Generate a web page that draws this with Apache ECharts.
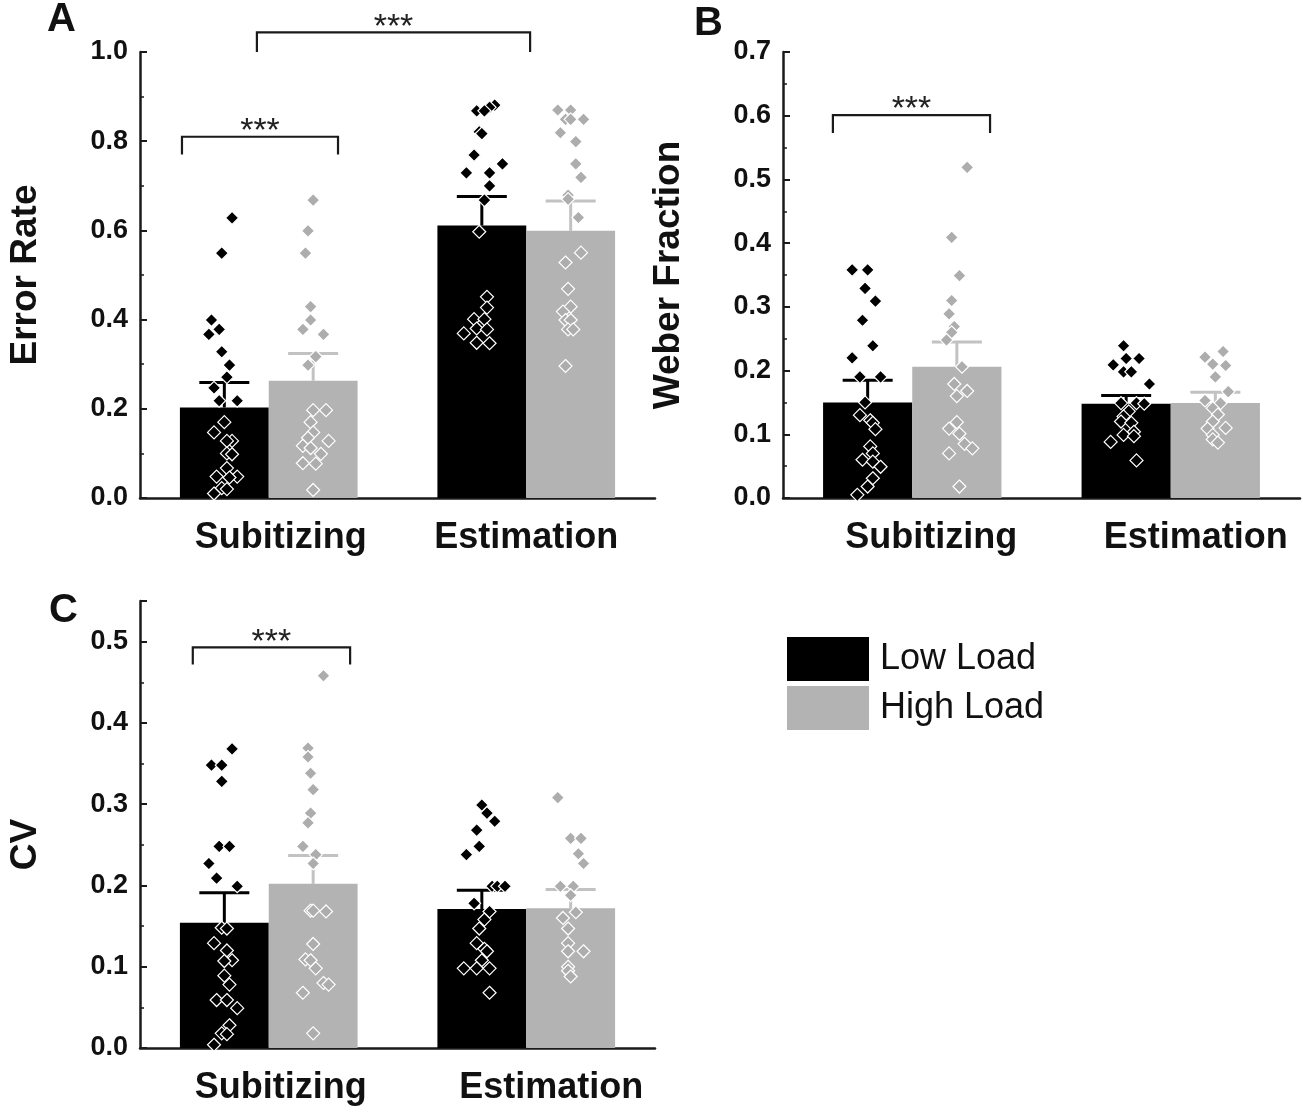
<!DOCTYPE html>
<html>
<head>
<meta charset="utf-8">
<script src="https://cdn.jsdelivr.net/npm/echarts@6/dist/echarts.min.js"></script>
<style>
  html, body { margin: 0; padding: 0; background: #fff; }
  #chart { width: 1303px; height: 1115px; }
</style>
</head>
<body>
<div id="chart"></div>
<script>
const categories = ['Subitizing', 'Estimation']
const groups = ['Low Load', 'High Load']

// A - error rate (bar = mean, whisker = SE)
const errMeanLow = [0.203, 0.611]
const errMeanHigh = [0.263, 0.599]
const errSeLow = [0.056, 0.065]
const errSeHigh = [0.061, 0.067]
// single subjects: [value, horizontal jitter in % of category width]
const errLowSub = [[0.628,3],[0.549,-1],[0.399,-5],[0.378,-2],[0.367,-6],[0.328,-1],[0.298,2],[0.271,1],[0.247,-4],[0.218,-2],[0.218,5],[0.170,0],[0.147,-4],[0.128,3],[0.128,1],[0.100,1],[0.098,3],[0.067,1],[0.048,-3],[0.048,5],[0.046,2],[0.022,-1],[0.020,1],[0.010,-4]]
const errHighSub = [[0.668,0],[0.599,-2],[0.549,-3],[0.429,-1],[0.399,-1],[0.378,-4],[0.367,4],[0.317,1],[0.298,-2],[0.197,0],[0.197,5],[0.170,-1],[0.147,0],[0.135,-2],[0.128,6],[0.117,-4],[0.112,-1],[0.099,3],[0.078,-4],[0.077,1],[0.018,0]]
const errLowEst = [[0.881,5],[0.876,3],[0.868,-2],[0.868,1],[0.821,-1],[0.817,0],[0.769,-3],[0.749,8],[0.729,-6],[0.729,3],[0.700,3],[0.668,1],[0.597,-1],[0.451,2],[0.427,2],[0.401,-3],[0.401,1],[0.380,-2],[0.378,2],[0.369,-7],[0.348,-2],[0.347,3]]
const errHighEst = [[0.870,-5],[0.870,0],[0.849,-2],[0.849,0],[0.849,5],[0.819,-4],[0.799,2],[0.749,2],[0.719,4],[0.679,-1],[0.670,-1],[0.629,3],[0.550,4],[0.528,-2],[0.469,-1],[0.429,0],[0.418,-3],[0.399,-2],[0.399,0],[0.378,-1],[0.378,1],[0.296,-2]]
// significance brackets: [x start, x end, y line, y leg end] on the 0..2 category scale
const errBrackets = [[0.163, 0.769, 0.810, 0.770], [0.454, 1.515, 1.044, 1.000]]

// B - weber fraction
const webMeanLow = [0.150, 0.148]
const webMeanHigh = [0.206, 0.149]
const webSeLow = [0.035, 0.013]
const webSeHigh = [0.039, 0.017]
const webLowSub = [[0.358,-6],[0.358,0],[0.329,-1],[0.309,3],[0.279,-2],[0.239,2],[0.220,-6],[0.190,-3],[0.190,5],[0.150,-1],[0.130,-3],[0.122,1],[0.118,2],[0.108,3],[0.081,1],[0.070,2],[0.060,-2],[0.057,2],[0.049,5],[0.031,2],[0.018,0],[0.005,-4]]
const webHighSub = [[0.519,4],[0.409,-2],[0.349,1],[0.310,-2],[0.289,-3],[0.269,-1],[0.260,-2],[0.248,-4],[0.206,2],[0.179,-1],[0.168,4],[0.160,0],[0.119,0],[0.109,-3],[0.101,1],[0.085,3],[0.078,6],[0.070,-3],[0.018,1]]
const webLowEst = [[0.239,-1],[0.219,0],[0.219,5],[0.209,-5],[0.198,-1],[0.198,2],[0.179,9],[0.149,-2],[0.149,4],[0.148,7],[0.136,1],[0.128,-1],[0.120,-2],[0.118,2],[0.104,3],[0.099,-1],[0.097,3],[0.088,-6],[0.059,4]]
const webHighEst = [[0.230,3],[0.221,-4],[0.210,-1],[0.208,4],[0.190,0],[0.167,5],[0.153,-4],[0.149,2],[0.141,-1],[0.131,1],[0.120,-1],[0.109,-3],[0.110,4],[0.099,-1],[0.092,-1],[0.087,1]]
const webBrackets = [[0.193, 0.801, 0.601, 0.573]]

// C - coefficient of variation
const cvMeanLow = [0.154, 0.171]
const cvMeanHigh = [0.202, 0.172]
const cvSeLow = [0.037, 0.023]
const cvSeHigh = [0.035, 0.023]
const cvLowSub = [[0.368,3],[0.348,-5],[0.348,-1],[0.328,-1],[0.248,-2],[0.248,2],[0.227,-6],[0.209,-3],[0.199,5],[0.148,-1],[0.147,1],[0.129,-4],[0.120,1],[0.108,3],[0.107,0],[0.089,0],[0.078,2],[0.059,-3],[0.059,1],[0.049,5],[0.028,2],[0.018,-1],[0.017,1],[0.004,-4]]
const cvHighSub = [[0.458,4],[0.369,-2],[0.358,-2],[0.338,-1],[0.318,0],[0.289,-1],[0.277,-2],[0.248,-4],[0.238,1],[0.227,0],[0.169,-1],[0.169,0],[0.168,5],[0.128,0],[0.109,-3],[0.108,-1],[0.098,1],[0.080,4],[0.078,6],[0.068,-4],[0.018,0]]
const cvLowEst = [[0.299,0],[0.289,2],[0.279,5],[0.268,-2],[0.248,-1],[0.238,-6],[0.199,4],[0.199,6],[0.199,9],[0.178,-3],[0.168,3],[0.158,1],[0.147,-1],[0.129,-2],[0.122,1],[0.119,2],[0.108,0],[0.098,-7],[0.098,-2],[0.098,3],[0.068,3]]
const cvHighEst = [[0.308,-5],[0.258,0],[0.258,4],[0.239,3],[0.227,5],[0.199,-4],[0.199,1],[0.188,0],[0.167,2],[0.160,-3],[0.147,-1],[0.129,-1],[0.119,5],[0.119,-1],[0.100,-1],[0.095,-1],[0.088,0]]
const cvBrackets = [[0.205, 0.816, 0.493, 0.472]]

const FONT = '"Liberation Sans", Arial, sans-serif'
const BAR_FRAC = 0.345
const COLORS = ['#000000', '#b3b3b3']
const DOT_COLORS = ['#000000', '#adadad']
const WHISKER_COLORS = ['#000000', '#c2c2c2']

const panels = [
  {
    name: 'Error Rate', max: 1, interval: 0.2,
    grid: { left: 140, top: 52, width: 515, height: 446 },
    means: [errMeanLow, errMeanHigh], ses: [errSeLow, errSeHigh],
    points: [[errLowSub, errLowEst], [errHighSub, errHighEst]],
    brackets: errBrackets, labelShift: [12, 0], namePad: [0, 0, 0, 0],
  },
  {
    name: 'Weber Fraction', max: 0.7, interval: 0.1,
    grid: { left: 783, top: 52, width: 517, height: 446 },
    means: [webMeanLow, webMeanHigh], ses: [webSeLow, webSeHigh],
    points: [[webLowSub, webLowEst], [webHighSub, webHighEst]],
    brackets: webBrackets, labelShift: [19, 25], namePad: [0, 0, 0, 0],
  },
  {
    name: 'CV', max: 0.55, interval: 0.1,
    grid: { left: 140, top: 601, width: 515, height: 447 },
    means: [cvMeanLow, cvMeanHigh], ses: [cvSeLow, cvSeHigh],
    points: [[cvLowSub, cvLowEst], [cvHighSub, cvHighEst]],
    brackets: cvBrackets, labelShift: [12, 25], namePad: [0, 40, 0, 0],
  },
]

const n = panels.length
const grid = panels.map((p) => p.grid)
const xAxis = []
const yAxis = []
const series = []

// x position of a bar centre on the 0..2 scale
const barX = (c, g) => c + 0.5 + (g === 0 ? -1 : 1) * BAR_FRAC / 2

panels.forEach((p, k) => {
  const catStyle = { fontSize: 36, fontWeight: 'bold', fontFamily: FONT, color: '#111' }
  xAxis.push({
    type: 'category', gridIndex: k, data: categories,
    axisLine: { lineStyle: { color: '#1a1a1a', width: 2.5 } },
    axisTick: { show: false },
    axisLabel: {
      interval: 0, hideOverlap: false, margin: 22, ...catStyle,
      formatter: (v, i) => `{c${i}|${v}}`,
      rich: {
        c0: { ...catStyle, padding: [0, 0, 0, 2 * p.labelShift[0]] },
        c1: { ...catStyle, padding: [0, 0, 0, 2 * p.labelShift[1]] },
      },
    },
  })
  yAxis.push({
    type: 'value', gridIndex: k, min: 0, max: p.max, interval: p.interval,
    name: p.name, nameLocation: 'middle', nameGap: 96,
    nameTextStyle: { fontSize: 37, fontWeight: 'bold', fontFamily: FONT, color: '#111', padding: p.namePad },
    axisLine: { show: true, lineStyle: { color: '#1a1a1a', width: 2.5 } },
    axisTick: { show: true, inside: true, length: 7, lineStyle: { color: '#1a1a1a', width: 2 } },
    minorTick: { show: true, splitNumber: 2, length: 4, lineStyle: { color: '#1a1a1a', width: 1.5 } },
    splitLine: { show: false },
    axisLabel: {
      margin: 12, fontSize: 27, fontWeight: 'bold', fontFamily: FONT, color: '#111',
      formatter: (v) => (Math.abs(v * 10 - Math.round(v * 10)) < 1e-6 ? v.toFixed(1) : ''),
    },
  })
})

// hidden value axes used to place the dots, whiskers and brackets
panels.forEach((p, k) => {
  xAxis.push({ type: 'value', gridIndex: k, min: 0, max: 2, show: false })
})

panels.forEach((p, k) => {
  groups.forEach((g, gi) => {
    series.push({
      type: 'bar', name: g, xAxisIndex: k, yAxisIndex: k,
      data: p.means[gi], barWidth: BAR_FRAC * 100 + '%', barGap: '0%',
      itemStyle: { color: COLORS[gi] }, z: 2,
    })
  })
  groups.forEach((g, gi) => {
    series.push({
      type: 'custom', name: 'se', xAxisIndex: n + k, yAxisIndex: k, z: 3,
      data: categories.map((c, ci) => [barX(ci, gi), p.means[gi][ci], p.ses[gi][ci]]),
      renderItem: (params, api) => {
        const base = api.coord([api.value(0), api.value(1)])
        const top = api.coord([api.value(0), api.value(1) + api.value(2)])
        const st = { stroke: WHISKER_COLORS[gi], lineWidth: 3 }
        return {
          type: 'group',
          children: [
            { type: 'line', shape: { x1: top[0], y1: base[1], x2: top[0], y2: top[1] }, style: st },
            { type: 'line', shape: { x1: top[0] - 25, y1: top[1], x2: top[0] + 25, y2: top[1] }, style: st },
          ],
        }
      },
    })
  })
  groups.forEach((g, gi) => {
    const pts = []
    categories.forEach((c, ci) => {
      p.points[gi][ci].forEach(([v, j]) => pts.push([barX(ci, gi) + j / 100, v]))
    })
    series.push({
      type: 'scatter', name: 'subjects', xAxisIndex: n + k, yAxisIndex: k, z: 4,
      data: pts, symbol: 'diamond', symbolSize: 13,
      itemStyle: { color: DOT_COLORS[gi], borderColor: '#ffffff', borderWidth: 1.2, opacity: 1 },
      emphasis: { disabled: true },
    })
  })
  series.push({
    type: 'custom', name: 'sig', xAxisIndex: n + k, yAxisIndex: k, z: 5, clip: false,
    data: p.brackets,
    renderItem: (params, api) => {
      const a = api.coord([api.value(0), api.value(2)])
      const b = api.coord([api.value(1), api.value(2)])
      const legA = api.coord([api.value(0), api.value(3)])
      const legB = api.coord([api.value(1), api.value(3)])
      return {
        type: 'group',
        children: [
          {
            type: 'polyline',
            shape: { points: [legA, a, b, legB] },
            style: { stroke: '#1a1a1a', lineWidth: 2.2, fill: null },
          },
          {
            type: 'text',
            style: {
              text: '***', x: (a[0] + b[0]) / 2, y: a[1] - 5,
              align: 'center', verticalAlign: 'middle',
              fontSize: 34, fontFamily: FONT, fill: '#222',
            },
          },
        ],
      }
    },
  })
})

const chart = echarts.init(document.getElementById('chart'), null, { renderer: 'canvas' })

chart.setOption({
  backgroundColor: '#ffffff',
  animation: false,
  grid,
  xAxis,
  yAxis,
  series,
  legend: {
    data: groups, orient: 'vertical', left: 787, top: 637, padding: 0,
    itemWidth: 82, itemHeight: 44, itemGap: 5, icon: 'rect',
    textStyle: { fontSize: 36, fontFamily: FONT, color: '#111', padding: [0, 0, 0, 6] },
    selectedMode: false,
  },
  graphic: [
    { type: 'text', left: 47, top: 0, style: { text: 'A', fontSize: 40, fontWeight: 'bold', fontFamily: FONT, fill: '#111' } },
    { type: 'text', left: 694, top: 4, style: { text: 'B', fontSize: 40, fontWeight: 'bold', fontFamily: FONT, fill: '#111' } },
    { type: 'text', left: 49, top: 591, style: { text: 'C', fontSize: 40, fontWeight: 'bold', fontFamily: FONT, fill: '#111' } },
  ],
})
</script>
</body>
</html>
